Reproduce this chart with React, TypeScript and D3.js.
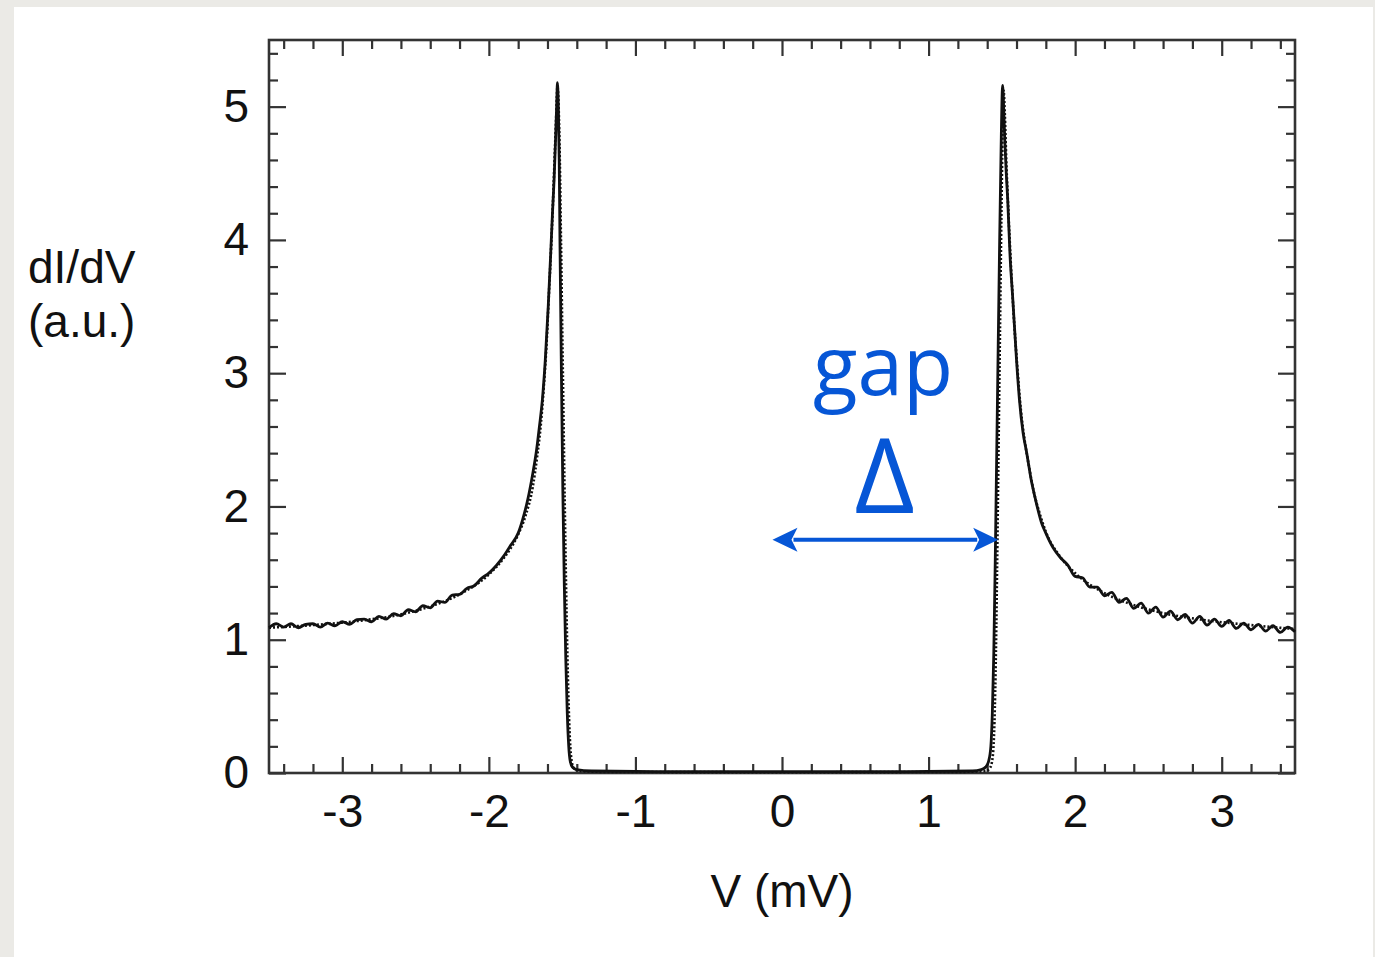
import React, { useEffect, useRef } from 'react';
import * as d3 from 'd3';

// measured dI/dV trace, split in three pieces (left tail + peak, gap, right peak + tail)
const measuredLeft: [number, number][] = [
  [-3.50, 1.09], [-3.45, 1.12], [-3.40, 1.095], [-3.35, 1.12], [-3.30, 1.09], [-3.25, 1.115],
  [-3.20, 1.12], [-3.15, 1.095], [-3.10, 1.125], [-3.05, 1.105], [-3.00, 1.135], [-2.95, 1.115],
  [-2.90, 1.15], [-2.85, 1.155], [-2.80, 1.135], [-2.75, 1.175], [-2.70, 1.155], [-2.65, 1.195],
  [-2.60, 1.18], [-2.55, 1.225], [-2.50, 1.21], [-2.45, 1.255], [-2.40, 1.24], [-2.35, 1.29],
  [-2.30, 1.28], [-2.25, 1.335], [-2.20, 1.34], [-2.15, 1.385], [-2.10, 1.405], [-2.05, 1.46],
  [-2.00, 1.50], [-1.95, 1.555], [-1.90, 1.625], [-1.85, 1.71], [-1.80, 1.80], [-1.77, 1.90],
  [-1.735, 2.05], [-1.70, 2.25], [-1.675, 2.42], [-1.655, 2.6], [-1.635, 2.8], [-1.615, 3.1],
  [-1.595, 3.5], [-1.58, 3.85], [-1.566, 4.2], [-1.555, 4.45], [-1.545, 4.75], [-1.537, 5.02],
  [-1.532, 5.18],
];

const measuredGap: [number, number][] = [
  [-1.526, 5.0], [-1.520, 4.6], [-1.515, 4.0], [-1.505, 3.0], [-1.495, 2.1], [-1.485, 1.4],
  [-1.475, 0.85], [-1.465, 0.45], [-1.455, 0.2], [-1.445, 0.09], [-1.43, 0.045], [-1.40, 0.025],
  [-1.30, 0.015], [-1.0, 0.012], [-0.5, 0.01], [0, 0.01], [0.5, 0.01], [1.0, 0.012],
  [1.30, 0.015], [1.36, 0.025], [1.39, 0.045], [1.41, 0.09], [1.425, 0.2], [1.435, 0.45],
  [1.445, 0.9], [1.455, 1.6], [1.465, 2.4], [1.475, 3.2], [1.485, 4.0], [1.495, 4.7],
  [1.500, 5.0], [1.505, 5.16],
];

const measuredRight: [number, number][] = [
  [1.512, 5.0], [1.52, 4.75], [1.53, 4.5], [1.54, 4.3], [1.555, 3.9], [1.575, 3.55],
  [1.60, 3.1], [1.62, 2.8], [1.645, 2.55], [1.67, 2.4], [1.70, 2.2], [1.73, 2.05],
  [1.77, 1.88], [1.80, 1.80], [1.85, 1.69], [1.90, 1.615], [1.95, 1.56], [2.00, 1.475],
  [2.05, 1.465], [2.10, 1.395], [2.15, 1.395], [2.20, 1.33], [2.25, 1.355], [2.30, 1.28],
  [2.35, 1.31], [2.40, 1.235], [2.45, 1.275], [2.50, 1.20], [2.55, 1.245], [2.60, 1.17],
  [2.65, 1.215], [2.70, 1.15], [2.75, 1.19], [2.80, 1.125], [2.85, 1.175], [2.90, 1.11],
  [2.95, 1.155], [3.00, 1.10], [3.05, 1.145], [3.10, 1.085], [3.15, 1.125], [3.20, 1.075],
  [3.25, 1.115], [3.30, 1.065], [3.35, 1.105], [3.40, 1.055], [3.45, 1.095], [3.50, 1.06],
];

// BCS fit, dotted
const fitCurve: [number, number][] = [
  [-3.5, 1.09], [-3.2, 1.11], [-2.9, 1.14], [-2.6, 1.19], [-2.4, 1.25], [-2.2, 1.34],
  [-2.0, 1.49], [-1.9, 1.61], [-1.8, 1.79], [-1.75, 1.93], [-1.70, 2.15], [-1.67, 2.38],
  [-1.645, 2.62], [-1.625, 2.9], [-1.605, 3.25], [-1.59, 3.6], [-1.575, 3.95], [-1.562, 4.3],
  [-1.55, 4.65], [-1.54, 4.95], [-1.532, 5.15], [-1.524, 5.0], [-1.516, 4.6], [-1.508, 4.0],
  [-1.495, 3.0], [-1.482, 2.0], [-1.47, 1.2], [-1.458, 0.6], [-1.447, 0.25], [-1.435, 0.09],
  [-1.42, 0.035], [-1.38, 0.015], [-1.2, 0.008], [0, 0.006], [1.2, 0.008], [1.39, 0.015],
  [1.42, 0.04], [1.435, 0.1], [1.447, 0.3], [1.457, 0.75], [1.467, 1.5], [1.477, 2.4],
  [1.487, 3.3], [1.497, 4.2], [1.505, 4.8], [1.512, 5.12], [1.52, 4.95], [1.53, 4.6],
  [1.545, 4.2], [1.56, 3.85], [1.58, 3.45], [1.605, 3.05], [1.63, 2.72], [1.655, 2.5],
  [1.685, 2.3], [1.72, 2.1], [1.76, 1.94], [1.8, 1.81], [1.9, 1.62], [2.0, 1.50],
  [2.2, 1.35], [2.4, 1.26], [2.6, 1.20], [2.9, 1.145], [3.2, 1.11], [3.5, 1.08],
];

const xTicks = [-3, -2, -1, 0, 1, 2, 3];
const yTicks = [0, 1, 2, 3, 4, 5];
const xDomain = [-3.5, 3.5];
const yDomain = [0, 5.5];

// annotation: double arrow spanning the gap, in data units
const gapArrow: [number, number][] = [[-0.065, 1.75], [1.475, 1.75]];
const gapLabel = { text: 'gap', v: 0.69, g: 2.84 };
const deltaLabel = { text: 'Δ', v: 0.70, g: 1.95 };

const W = 1375;
const H = 957;
const margin = { top: 40, right: 80, bottom: 184, left: 269 };

function App() {
  const svgRef = useRef<SVGSVGElement>(null);

  useEffect(() => {
    const svg = d3.select(svgRef.current);
    svg.selectAll('*').remove();

    const innerW = W - margin.left - margin.right;
    const innerH = H - margin.top - margin.bottom;
    const x = d3.scaleLinear().domain(xDomain).range([0, innerW]);
    const y = d3.scaleLinear().domain(yDomain).range([innerH, 0]);

    // page background + white sheet
    svg.append('rect').attr('width', W).attr('height', H).attr('fill', '#ebeae6');
    svg.append('rect').attr('x', 14).attr('y', 7).attr('width', 1359).attr('height', H - 7).attr('fill', '#ffffff');

    const g = svg.append('g').attr('transform', `translate(${margin.left},${margin.top})`);

    const font = '"Liberation Sans", Arial, Helvetica, sans-serif';
    const axisColor = '#333';

    const xMinor = d3.range(-3.4, 3.41, 0.2).filter(v => Math.abs(v - Math.round(v)) > 0.01);
    const yMinor = d3.range(0.2, 5.41, 0.2).filter(v => Math.abs(v - Math.round(v)) > 0.01);

    const styleAxis = (sel: any) => {
      sel.select('.domain').remove();
      sel.selectAll('line').attr('stroke', axisColor).attr('stroke-width', 2.2);
      sel.selectAll('text').attr('fill', '#111').style('font-family', font).style('font-size', '46px');
    };

    // minor ticks, all four sides, inward
    g.append('g').attr('transform', `translate(0,${innerH})`)
      .call(d3.axisBottom(x).tickValues(xMinor).tickSize(-9).tickFormat(() => '')).call(styleAxis);
    g.append('g')
      .call(d3.axisTop(x).tickValues(xMinor).tickSize(-9).tickFormat(() => '')).call(styleAxis);
    g.append('g')
      .call(d3.axisLeft(y).tickValues(yMinor).tickSize(-9).tickFormat(() => '')).call(styleAxis);
    g.append('g').attr('transform', `translate(${innerW},0)`)
      .call(d3.axisRight(y).tickValues(yMinor).tickSize(-9).tickFormat(() => '')).call(styleAxis);

    // major ticks
    g.append('g').attr('transform', `translate(0,${innerH})`)
      .call(d3.axisBottom(x).tickValues(xTicks).tickSize(-16).tickPadding(21).tickFormat(d => String(d)))
      .call(styleAxis);
    g.append('g')
      .call(d3.axisTop(x).tickValues(xTicks).tickSize(-16).tickFormat(() => '')).call(styleAxis);
    g.append('g')
      .call(d3.axisLeft(y).tickValues(yTicks).tickSize(-17).tickPadding(20).tickFormat(d => String(d)))
      .call(styleAxis);
    g.append('g').attr('transform', `translate(${innerW},0)`)
      .call(d3.axisRight(y).tickValues(yTicks).tickSize(-17).tickFormat(() => '')).call(styleAxis);

    // frame
    g.append('rect').attr('width', innerW).attr('height', innerH)
      .attr('fill', 'none').attr('stroke', axisColor).attr('stroke-width', 2.6);

    const line = d3.line<[number, number]>()
      .x(d => x(d[0]))
      .y(d => y(d[1]))
      .curve(d3.curveMonotoneX);

    g.append('path').datum(fitCurve).attr('d', line)
      .attr('fill', 'none').attr('stroke', '#111').attr('stroke-width', 2.6)
      .attr('stroke-dasharray', '2,2');

    g.append('path').datum([...measuredLeft, ...measuredGap, ...measuredRight]).attr('d', line)
      .attr('fill', 'none').attr('stroke', '#111').attr('stroke-width', 2.8)
      .attr('stroke-linejoin', 'round');

    // axis titles
    g.append('text').attr('x', x(0)).attr('y', innerH + 134)
      .attr('text-anchor', 'middle').style('font-family', font).style('font-size', '46px')
      .attr('fill', '#111').text('V (mV)');
    svg.append('text').attr('x', 28).attr('y', 283)
      .style('font-family', font).style('font-size', '46px').attr('fill', '#111').text('dI/dV');
    svg.append('text').attr('x', 28).attr('y', 337)
      .style('font-family', font).style('font-size', '46px').attr('fill', '#111').text('(a.u.)');

    // gap annotation
    const blue = '#0656d6';
    const [a0, a1] = gapArrow;
    const ax0 = x(a0[0]), ax1 = x(a1[0]), ay = y(a0[1]);
    const head = 25, half = 12;
    g.append('line').attr('x1', ax0 + head - 4).attr('x2', ax1 - head + 4).attr('y1', ay).attr('y2', ay)
      .attr('stroke', blue).attr('stroke-width', 4);
    g.append('path').attr('fill', blue)
      .attr('d', `M${ax0},${ay}L${ax0 + head},${ay - half}L${ax0 + head - 6},${ay}L${ax0 + head},${ay + half}Z`);
    g.append('path').attr('fill', blue)
      .attr('d', `M${ax1},${ay}L${ax1 - head},${ay - half}L${ax1 - head + 6},${ay}L${ax1 - head},${ay + half}Z`);

    g.append('text').attr('x', x(gapLabel.v)).attr('y', y(gapLabel.g))
      .attr('text-anchor', 'middle').style('font-family', '"Open Sans", sans-serif')
      .style('font-size', '82px').attr('fill', blue).text(gapLabel.text);
    g.append('text').attr('x', x(deltaLabel.v)).attr('y', y(deltaLabel.g))
      .attr('text-anchor', 'middle').style('font-family', '"Open Sans", sans-serif')
      .style('font-size', '104px').attr('fill', blue).text(deltaLabel.text);
  }, []);

  return (
    <svg ref={svgRef} width={W} height={H}
      style={{ position: 'absolute', left: 0, top: 0, display: 'block' }} />
  );
}

export default App;
